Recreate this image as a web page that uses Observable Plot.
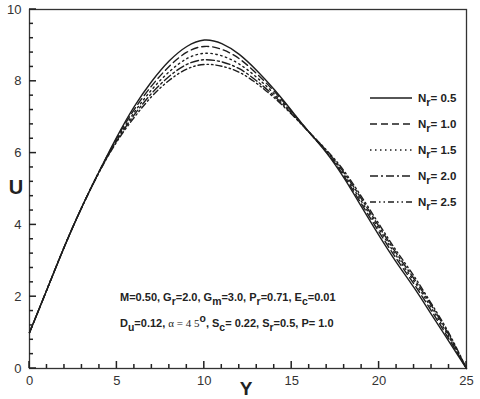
<!DOCTYPE html>
<html><head><meta charset="utf-8">
<script src="https://cdn.jsdelivr.net/npm/d3@7"></script>
<script src="https://cdn.jsdelivr.net/npm/@observablehq/plot@0.6"></script>
<style>
body{margin:0;background:#fff;}
svg{font-family:"Liberation Sans",Arial,sans-serif;}
</style>
</head><body><div id="chart"></div>
<script>
// ---- data ----
const yPos = [0,1,2,3,4,5,6,7,8,9,10,11,12,13,14,15,16,17,18,19,20,21,22,23,24,25];
const u05 = [1.0,2.2,3.4,4.5,5.5,6.45,7.3,8.0,8.57,8.97,9.15,9.05,8.75,8.3,7.77,7.18,6.58,6.0,5.3,4.5,3.7,2.95,2.25,1.5,0.75,0];
const u10 = [1.0,2.2,3.4,4.5,5.5,6.42,7.22,7.88,8.42,8.81,8.97,8.89,8.63,8.21,7.72,7.16,6.58,6.02,5.35,4.58,3.8,3.05,2.35,1.6,0.82,0];
const u15 = [1.0,2.2,3.4,4.5,5.5,6.38,7.14,7.77,8.27,8.63,8.78,8.71,8.48,8.11,7.65,7.13,6.58,6.04,5.4,4.65,3.88,3.13,2.43,1.68,0.88,0];
const u20 = [1.0,2.2,3.4,4.5,5.49,6.35,7.07,7.67,8.14,8.47,8.6,8.54,8.35,8.01,7.59,7.1,6.58,6.06,5.45,4.72,3.95,3.2,2.5,1.75,0.93,0];
const u25 = [1.0,2.2,3.4,4.5,5.48,6.32,7.0,7.58,8.03,8.34,8.47,8.42,8.25,7.94,7.54,7.08,6.58,6.08,5.5,4.78,4.02,3.27,2.57,1.8,0.98,0];
const nrLabels = ["0.5","1.0","1.5","2.0","2.5"];
const xMajor = [0,5,10,15,20,25];
const xMinor = [1,2,3,4,6,7,8,9,11,12,13,14,16,17,18,19,21,22,23,24];
const yMajor = [0,2,4,6,8,10];
const yMinor = [0.4,0.8,1.2,1.6,2.4,2.8,3.2,3.6,4.4,4.8,5.2,5.6,6.4,6.8,7.2,7.6,8.4,8.8,9.2,9.6];

const seriesValues = [u05,u10,u15,u20,u25];
const dashes = [null,"7,4","1.5,3.5","8,3,2,3","6,3,1.5,3,1.5,3"];
const rows = seriesValues.flatMap((vals,k)=>yPos.map((y,i)=>({Y:y,U:vals[i],nr:nrLabels[k]})));

const W = 480, H = 399, mL = 29, mR = 14, mT = 9, mB = 31;
const innerW = W - mL - mR, innerH = H - mT - mB;
const xDom = [0,25], yDom = [0,10];
const ink = "#1e1e1e";
const plot = Plot.plot({
  width:W, height:H,
  marginLeft:mL, marginRight:mR, marginTop:mT, marginBottom:mB,
  x:{domain:xDom}, y:{domain:yDom},
  style:{fontFamily:'"Liberation Sans",Arial,sans-serif', fontSize:"13px", color:"#333", background:"#fff"},
  marks:[
    Plot.axisX(xMajor,{tickSize:0, tickPadding:7, label:null, fontSize:13, fill:"#333"}),
    Plot.axisY(yMajor,{tickSize:0, tickPadding:8, label:null, fontSize:13, fill:"#333"}),
    Plot.frame({stroke:"#333", strokeWidth:1.3}),
    ...nrLabels.map((nr,k)=>Plot.line(rows.filter(d=>d.nr===nr),{x:"Y",y:"U",curve:"natural",stroke:ink,strokeWidth:1.4,strokeDasharray:dashes[k]}))
  ]
});

const svg = d3.select(plot);
const font = '"Liberation Sans",Arial,sans-serif';
const sx = plot.scale("x"), sy = plot.scale("y");

// inward ticks drawn as thin filled rectangles placed through Plot's scales
const bx = sx.apply(xDom[0]), by = sy.apply(yDom[0]);
const tickG = svg.append("g").attr("fill","#222");
[...xMajor.map(v=>[v,7]), ...xMinor.map(v=>[v,4])].forEach(([v,len])=>{
  tickG.append("rect").attr("x",sx.apply(v)-0.75).attr("y",by-len).attr("width",1.5).attr("height",len);
});
[...yMajor.map(v=>[v,7]), ...yMinor.map(v=>[v,4])].forEach(([v,len])=>{
  tickG.append("rect").attr("x",bx).attr("y",sy.apply(v)-0.75).attr("width",len).attr("height",1.5);
});

function rich(x,y,parts,size){
  const t = svg.append("text").attr("x",x).attr("y",y).attr("text-anchor","start")
    .attr("font-family",font).attr("font-weight","bold").attr("font-size",size).attr("fill","#222");
  let shift = 0;
  parts.forEach(p=>{
    const [txt,kind,fam] = p;
    let target = kind==="sub"?4:kind==="sup"?-5:0;
    const s = t.append("tspan").text(txt).attr("dy",target-shift);
    if(kind==="sub"||kind==="sup") s.attr("font-size",size*0.95);
    if(fam) s.attr("font-family",fam).attr("font-weight","normal");
    shift = target;
  });
  return t;
}

// legend
const legY = [98,124,150,176,202];
nrLabels.forEach((nr,k)=>{
  svg.append("line").attr("x1",370).attr("x2",412).attr("y1",legY[k]).attr("y2",legY[k])
    .attr("stroke",ink).attr("stroke-width",1.3).attr("stroke-dasharray",dashes[k]);
  rich(418,legY[k]+4,[["N"],["r","sub"],["= "+nr]],11.5);
});

// parameter annotations
rich(120,301,[["M=0.50, G"],["r","sub"],["=2.0, G"],["m","sub"],["=3.0, P"],["r","sub"],["=0.71, E"],["c","sub"],["=0.01"]],11);
rich(120,327,[["D"],["u","sub"],["=0.12, "],["α = 4 5","", '"Liberation Serif",serif'],["o","sup"],[", S"],["c","sub"],["= 0.22, S"],["r","sub"],["=0.5, P= 1.0"]],11);

// axis titles
svg.append("text").attr("x",16).attr("y",194).attr("text-anchor","middle")
  .attr("font-family",font).attr("font-weight","bold").attr("font-size",20).attr("fill","#222").text("U");
svg.append("text").attr("x",246).attr("y",395).attr("text-anchor","middle")
  .attr("font-family",font).attr("font-weight","bold").attr("font-size",19).attr("fill","#222").text("Y");

document.getElementById("chart").appendChild(plot);
</script>
</body></html>
